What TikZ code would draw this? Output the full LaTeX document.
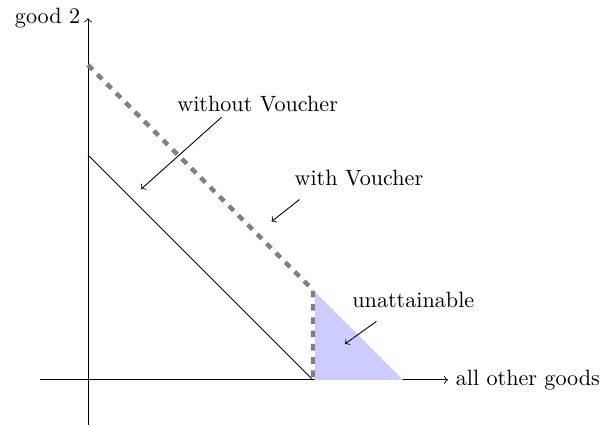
\documentclass[tikz,border=0pt]{standalone}
\begin{document}
\begin{tikzpicture}[x=0.714cm,y=0.714cm,
  ptr/.style={->},
  budget/.style={gray, line width=2pt, dashed}]
\useasboundingbox (-1.956,-1.044) rectangle (11.49,8.444);
\draw[->] (-1.07,0) -- (8,0) node[right] (xl) {all other goods};
\draw[->] (0,-1) -- (0,8.04) node[left] (yl) {good 2};
\draw (0,5) -- (5,0);
\fill[blue!20] (5.05,1.95) -- (5.05,0) -- (7,0) -- cycle;
\draw[budget] (0,7) -- (5,2) -- (5,0);
\node (wo) at (3.77,6.14) {without Voucher};
\coordinate (woS) at (2.97,5.84);
\coordinate (woT) at (1.18,4.24);
\draw[ptr] (woS) -- (woT);
\node (w) at (6.02,4.48) {with Voucher};
\coordinate (wS) at (4.70,4.01);
\coordinate (wT) at (4.08,3.52);
\draw[ptr] (wS) -- (wT);
\node (u) at (7.23,1.78) {unattainable};
\coordinate (uS) at (6.41,1.30);
\coordinate (uT) at (5.71,0.80);
\draw[ptr] (uS) -- (uT);
\end{tikzpicture}
\end{document}
